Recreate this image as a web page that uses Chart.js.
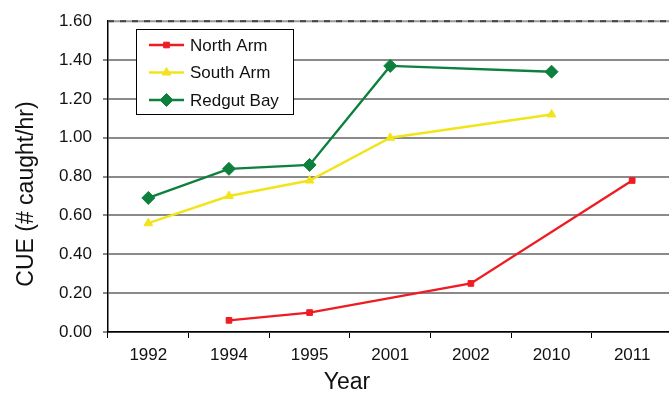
<!DOCTYPE html>
<html>
<head>
<meta charset="utf-8">
<script src="https://cdn.jsdelivr.net/npm/chart.js@4.4.1/dist/chart.umd.min.js"></script>
<style>
  html, body { margin: 0; padding: 0; background: #fff; overflow: hidden; }
  #wrap { width: 669px; height: 397px; overflow: hidden; position: relative; }
  #wrap canvas { position: absolute; left: 0; top: 0; }
</style>
</head>
<body>
<div id="wrap"><canvas id="c" width="680" height="397"></canvas></div>
<script>
// Survey years (category axis)
const years = ['1992', '1994', '1995', '2001', '2002', '2010', '2011'];

// Catch per unit effort (# caught/hr) by site; null = not sampled that year
const northArm  = [null, 0.06, 0.10, null, 0.25, null, 0.78];
const southArm  = [0.56, 0.70, 0.78, 1.00, null, 1.12, null];
const redgutBay = [0.69, 0.84, 0.86, 1.37, null, 1.34, null];

const seriesNames = ['North Arm', 'South Arm', 'Redgut Bay'];
const yTicks = [0, 0.2, 0.4, 0.6, 0.8, 1.0, 1.2, 1.4, 1.6];

const FONT = 'Liberation Sans, Arial, sans-serif';
const RED = '#EE1D23', YELLOW = '#F2E41A', GREEN = '#0E803E';

// Legend box with line + marker samples, drawn inside the plot
const boxLegend = {
  id: 'boxLegend',
  afterDraw(chart) {
    const ctx = chart.ctx;
    const x0 = 136, y0 = 29, w = 157, h = 85;
    ctx.save();
    ctx.fillStyle = '#fff';
    ctx.fillRect(x0, y0, w, h);
    ctx.strokeStyle = '#000';
    ctx.lineWidth = 1;
    ctx.strokeRect(x0 + 0.5, y0 + 0.5, w, h);
    chart.data.datasets.forEach((ds, i) => {
      const cy = 45 + i * 27.5;
      ctx.strokeStyle = ds.borderColor;
      ctx.lineWidth = ds.borderWidth;
      ctx.beginPath();
      ctx.moveTo(149, cy);
      ctx.lineTo(184, cy);
      ctx.stroke();
      ctx.fillStyle = ds.pointBackgroundColor;
      ctx.strokeStyle = ds.pointBorderColor;
      ctx.lineWidth = 1;
      Chart.helpers.drawPoint(ctx, {
        pointStyle: ds.pointStyle, radius: ds.pointRadius, rotation: 0, borderWidth: 1
      }, 166.5, cy);
      ctx.fillStyle = '#111';
      ctx.font = '17px ' + FONT;
      ctx.textBaseline = 'middle';
      ctx.textAlign = 'left';
      ctx.fillText(ds.label, 190, cy + 1);
    });
    ctx.restore();
  }
};

// Axis titles and the dashed top border of the plot
const frame = {
  id: 'frame',
  beforeDatasetsDraw(chart) {
    const ctx = chart.ctx, a = chart.chartArea;
    const yTop = chart.scales.y.getPixelForValue(1.6);
    ctx.save();
    ctx.strokeStyle = '#9a9a9a';
    ctx.lineWidth = 2;
    ctx.beginPath();
    ctx.moveTo(a.left, yTop); ctx.lineTo(a.right, yTop); ctx.stroke();
    ctx.strokeStyle = '#444';
    ctx.setLineDash([6, 6]);
    ctx.beginPath();
    ctx.moveTo(a.left, yTop); ctx.lineTo(a.right, yTop); ctx.stroke();
    ctx.restore();
  },
  afterDraw(chart) {
    const ctx = chart.ctx;
    ctx.save();
    ctx.fillStyle = '#111';
    ctx.font = '23px ' + FONT;
    ctx.textAlign = 'center';
    ctx.textBaseline = 'middle';
    ctx.fillText('Year', 347, 383);
    ctx.translate(27, 194);
    ctx.rotate(-Math.PI / 2);
    ctx.fillText('CUE (# caught/hr)', 0, 0);
    ctx.restore();
  }
};

const styles = [
  { color: RED, style: 'rect', r: 4 },
  { color: YELLOW, style: 'triangle', r: 5 },
  { color: GREEN, style: 'rectRot', r: 6.5 }
];
const values = [northArm, southArm, redgutBay];

new Chart(document.getElementById('c'), {
  type: 'line',
  data: {
    labels: years,
    datasets: values.map((v, i) => ({
      label: seriesNames[i],
      data: v,
      borderColor: styles[i].color,
      backgroundColor: styles[i].color,
      pointBackgroundColor: styles[i].color,
      pointBorderColor: styles[i].color,
      pointStyle: styles[i].style,
      pointRadius: styles[i].r,
      pointBorderWidth: 1,
      borderWidth: 2.4,
      tension: 0,
      spanGaps: true
    }))
  },
  options: {
    responsive: false,
    animation: false,
    layout: { padding: { top: 20, right: 5, left: 0, bottom: 0 } },
    plugins: { legend: { display: false }, tooltip: { enabled: false } },
    scales: {
      x: {
        offset: true,
        grid: { offset: true, drawOnChartArea: false, drawTicks: true, tickLength: 6, color: '#000', lineWidth: 1 },
        border: { color: '#000', width: 1.5 },
        ticks: { color: '#111', font: { family: FONT, size: 17 }, padding: 7, maxRotation: 0, autoSkip: false },
        afterFit(s) { s.height = 65; }
      },
      y: {
        min: 0, max: 1.6,
        afterBuildTicks(s) { s.ticks = yTicks.map(v => ({ value: v })); },
        grid: {
          color: ctx => (ctx.tick && ctx.tick.value >= 1.6 ? 'rgba(0,0,0,0)' : '#8a8a8a'),
          lineWidth: 2, drawTicks: true, tickLength: 5
        },
        border: { color: '#000', width: 1.5 },
        ticks: {
          color: '#111', font: { family: FONT, size: 17 }, padding: 11,
          callback: v => Number(v).toFixed(2)
        },
        afterFit(s) { s.width = 108; }
      }
    }
  },
  plugins: [frame, boxLegend]
});
</script>
</body>
</html>
